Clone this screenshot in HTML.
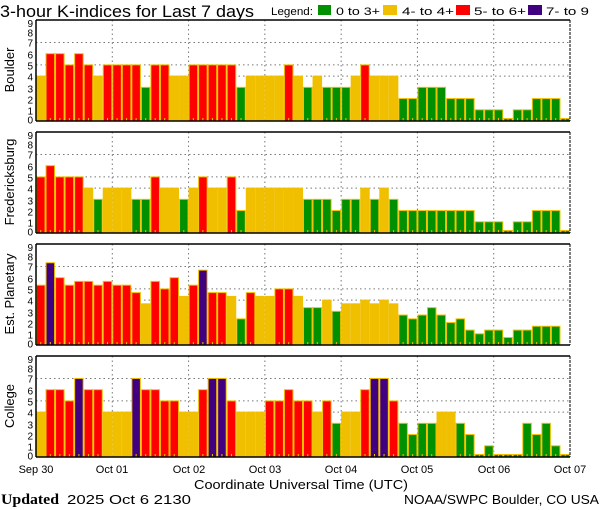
<!DOCTYPE html>
<html><head><meta charset="utf-8"><style>
html,body{margin:0;padding:0;background:#fff;}
svg{display:block;font-family:"Liberation Sans",sans-serif;}
</style></head><body>
<svg id="s" width="600" height="510" viewBox="0 0 600 510" xmlns="http://www.w3.org/2000/svg">
<rect width="600" height="510" fill="#fff"/>
<text x="0" y="17" font-size="17" textLength="254" lengthAdjust="spacingAndGlyphs">3-hour K-indices for Last 7 days</text>
<g font-size="11">
<text x="271" y="15" textLength="42" lengthAdjust="spacingAndGlyphs">Legend:</text>
<rect x="318" y="5" width="13" height="10" fill="#009000"/>
<text x="336" y="15" textLength="44" lengthAdjust="spacingAndGlyphs">0 to 3+</text>
<rect x="383" y="5" width="14" height="10" fill="#f0c000"/>
<text x="402" y="15" textLength="52" lengthAdjust="spacingAndGlyphs">4- to 4+</text>
<rect x="456" y="5" width="14" height="10" fill="#ff0000"/>
<text x="474" y="15" textLength="52" lengthAdjust="spacingAndGlyphs">5- to 6+</text>
<rect x="528" y="5" width="14" height="10" fill="#400080"/>
<text x="546" y="15" textLength="43" lengthAdjust="spacingAndGlyphs">7- to 9</text>
</g>
<g id="bars"></g>
<g font-size="13" text-anchor="middle">
<text transform="translate(14,70) rotate(-90)">Boulder</text>
<text transform="translate(14,182) rotate(-90)">Fredericksburg</text>
<text transform="translate(14,294) rotate(-90)">Est. Planetary</text>
<text transform="translate(14,406) rotate(-90)">College</text>
</g>
<g font-size="11" text-anchor="middle">
<text x="36" y="473">Sep 30</text>
<text x="112" y="473">Oct 01</text>
<text x="189" y="473">Oct 02</text>
<text x="265" y="473">Oct 03</text>
<text x="341" y="473">Oct 04</text>
<text x="417" y="473">Oct 05</text>
<text x="494" y="473">Oct 06</text>
<text x="570" y="473">Oct 07</text>
<text x="301" y="489" font-size="13" textLength="214" lengthAdjust="spacingAndGlyphs">Coordinate Universal Time (UTC)</text>
</g>
<text x="1" y="504" font-size="15" font-family="Liberation Serif,serif" font-weight="bold" textLength="58" lengthAdjust="spacingAndGlyphs">Updated</text>
<text x="67" y="504" font-size="13" textLength="124" lengthAdjust="spacingAndGlyphs">2025 Oct  6 2130</text>
<text x="599" y="504" font-size="13" text-anchor="end" textLength="195" lengthAdjust="spacingAndGlyphs">NOAA/SWPC Boulder, CO USA</text>
</svg>
<script>
var P=[
[4,6,6,5,6,5,4,5,5,5,5,3,5,5,4,4,5,5,5,5,5,3,4,4,4,4,5,4, 3,4,3,3,3,4,5,4,4,4,2,2,3,3,3,2,2,2,1,1,1,0,1,1,2,2,2,0],
[5,6,5,5,5,4,3,4,4,4,3,3,5,4,4,3,4,5,4,4,5,2,4,4,4,4,4,4, 3,3,3,2,3,3,4,3,4,3,2,2,2,2,2,2,2,2,1,1,1,0,1,1,2,2,2,0],
[5.33,7.33,6,5.33,5.67,5.67,5.33,5.67,5.33,5.33,4.67,3.67,5.67,5,6,4.33,5.33,6.67,4.67,4.67,4.33,2.33,4.67,4.33,4.33,5,5,4.33,
 3.33,3.33,4,3,3.67,3.67,4,3.67,4,3.67,2.67,2.33,2.67,3.33,2.67,2,2.33,1.33,1,1.33,1.33,0.67,1.33,1.33,1.67,1.67,1.67,null],
[4,6,6,5,7,6,6,4,4,4,7,6,6,5,5,4,4,6,7,7,5,4,4,4,5,5,6,5, 5,4,5,3,4,4,6,7,7,5,3,2,3,3,4,4,3,2,0,1,0,0,0,3,2,3,1,0]];
var tops=[20,132,244,356],H=101,U=H/9,X0=36,W=534,BW=W/56;
var ns="http://www.w3.org/2000/svg",g=document.getElementById('bars');
function el(t,a){var e=document.createElementNS(ns,t);for(var k in a)e.setAttribute(k,a[k]);g.appendChild(e);return e;}
function col(v){return v<3.5?'#009000':v<4.5?'#f0c000':v<6.5?'#ff0000':'#400080';}
for(var p=0;p<4;p++){
 var t=tops[p],b=t+H;
 [4,5,7].forEach(function(k){el('line',{x1:X0,x2:X0+W,y1:b-k*U,y2:b-k*U,stroke:'#777','stroke-dasharray':'1.5,3','stroke-width':1});});
 for(var d=1;d<7;d++){var x=X0+d*8*BW;el('line',{x1:x,x2:x,y1:t,y2:b,stroke:'#777','stroke-dasharray':'1.5,3','stroke-width':1});}
 for(var i=0;i<56;i++){var v=P[p][i];if(v===null)continue;
  var h=v===0?2.5:v*U;var x=X0+i*BW;
  el('rect',{x:x+0.5,y:b-h,width:BW-1,height:h,fill:col(v),stroke:'#f0c000','stroke-width':1});
  el('rect',{x:x+BW/2-0.5,y:b-3,width:1,height:3,fill:'#f0c000'});
 }
 el('line',{x1:X0,x2:X0+W,y1:t,y2:t,stroke:'#000','stroke-width':1.5});
 el('line',{x1:X0,x2:X0+W,y1:b,y2:b,stroke:'#000','stroke-width':1.5});
 el('line',{x1:X0,x2:X0,y1:t,y2:b,stroke:'#000','stroke-width':1.5});
 el('line',{x1:X0+W,x2:X0+W,y1:t,y2:b,stroke:'#000','stroke-width':1,'stroke-dasharray':'3,1'});
 var offs=[1.5,10.5,21.5,32.5,44.5,55.5,66.5,78.5,88.5,97.8];
 for(var k=0;k<10;k++){var tx=el('text',{x:33,y:b-offs[k]+4,'font-size':10,'text-anchor':'end'});tx.textContent=k;}
}
</script>
</body></html>
